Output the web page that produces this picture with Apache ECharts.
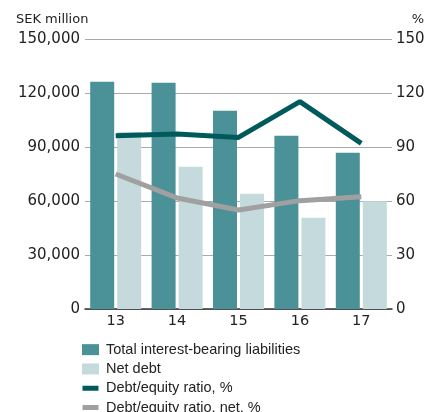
<!DOCTYPE html>
<html>
<head>
<meta charset="utf-8">
<script src="https://cdn.jsdelivr.net/npm/echarts@6/dist/echarts.min.js"></script>
<style>
  html, body { margin: 0; padding: 0; background: #fff; }
  #chart { width: 429px; height: 412px; }
</style>
</head>
<body>
<div id="chart"></div>
<script>
// 年份
const years = ['13', '14', '15', '16', '17'];
// SEK million
const totalLiabilities = [126300, 125700, 110200, 96300, 86800];
const netDebt = [98300, 79000, 64000, 50700, 59800];
// %
const debtEquity = [96.3, 97.2, 95.3, 115.2, 92];
const debtEquityNet = [75, 61.7, 55, 60.2, 62.4];

const leftTicks = [0, 30000, 60000, 90000, 120000, 150000];
const rightTicks = [0, 30, 60, 90, 120, 150];

const axisFont = 'DejaVu Sans';
const legendFont = 'Liberation Sans';

// 图例里线条用细条，柱子用方块
const lineIcon = 'path://M0,0L0.01,0L0,0Z M0,3H16V8H0Z M0,11L0.01,11L0,11Z';

let chartDom = document.getElementById('chart');
let myChart = echarts.init(chartDom, null, { renderer: 'canvas' });
let option;

option = {
    animation: false,
    title: [
        {
            text: 'SEK million',
            left: 16,
            top: 13,
            padding: 0,
            textStyle: { fontFamily: axisFont, fontSize: 13, fontWeight: 'normal', color: '#222' }
        },
        {
            text: '%',
            right: 5,
            top: 13,
            padding: 0,
            textStyle: { fontFamily: axisFont, fontSize: 13, fontWeight: 'normal', color: '#222' }
        }
    ],
    grid: {
        left: 85,
        right: 37,
        top: 39,
        bottom: 103
    },
    legend: {
        orient: 'vertical',
        left: 82,
        top: 340,
        height: 90,
        itemWidth: 17,
        itemHeight: 11,
        itemGap: 0,
        padding: 0,
        textStyle: {
            fontFamily: legendFont,
            fontSize: 14.5,
            color: '#222',
            lineHeight: 19.3,
            padding: [0, 0, 0, 2]
        },
        data: [
            { name: 'Total interest-bearing liabilities', icon: 'rect' },
            { name: 'Net debt', icon: 'rect' },
            { name: 'Debt/equity ratio, %', icon: lineIcon },
            { name: 'Debt/equity ratio, net, %', icon: lineIcon }
        ]
    },
    xAxis: [
        {
            type: 'category',
            data: years,
            axisLine: { show: true, lineStyle: { color: '#333', width: 1.5 } },
            axisTick: { show: false },
            axisLabel: { fontFamily: axisFont, fontSize: 14.5, color: '#222', margin: 5 }
        }
    ],
    yAxis: [
        {
            type: 'value',
            min: leftTicks[0],
            max: leftTicks[leftTicks.length - 1],
            interval: leftTicks[1] - leftTicks[0],
            axisLine: { show: false },
            axisTick: { show: false },
            splitLine: { lineStyle: { color: '#aaa', width: 1.2 } },
            axisLabel: {
                fontFamily: axisFont,
                fontSize: 15,
                color: '#222',
                margin: 5,
                formatter: function (v) {
                    return v.toLocaleString('en-US');
                }
            }
        },
        {
            type: 'value',
            min: rightTicks[0],
            max: rightTicks[rightTicks.length - 1],
            interval: rightTicks[1] - rightTicks[0],
            axisLine: { show: false },
            axisTick: { show: false },
            splitLine: { show: false },
            axisLabel: { fontFamily: axisFont, fontSize: 15, color: '#222', margin: 4 }
        }
    ],
    series: [
        {
            name: 'Total interest-bearing liabilities',
            type: 'bar',
            data: totalLiabilities,
            barWidth: 24,
            barGap: '12.5%',
            itemStyle: { color: '#4a9297' }
        },
        {
            name: 'Net debt',
            type: 'bar',
            data: netDebt,
            barWidth: 24,
            barGap: '12.5%',
            itemStyle: { color: '#c5dadd' }
        },
        {
            name: 'Debt/equity ratio, %',
            type: 'line',
            yAxisIndex: 1,
            data: debtEquity,
            symbol: 'none',
            z: 4,
            lineStyle: { color: '#005a5b', width: 5 },
            itemStyle: { color: '#005a5b' }
        },
        {
            name: 'Debt/equity ratio, net, %',
            type: 'line',
            yAxisIndex: 1,
            data: debtEquityNet,
            symbol: 'none',
            z: 3,
            lineStyle: { color: '#a0a0a0', width: 5 },
            itemStyle: { color: '#a0a0a0' }
        }
    ]
};

option && myChart.setOption(option);
</script>
</body>
</html>
